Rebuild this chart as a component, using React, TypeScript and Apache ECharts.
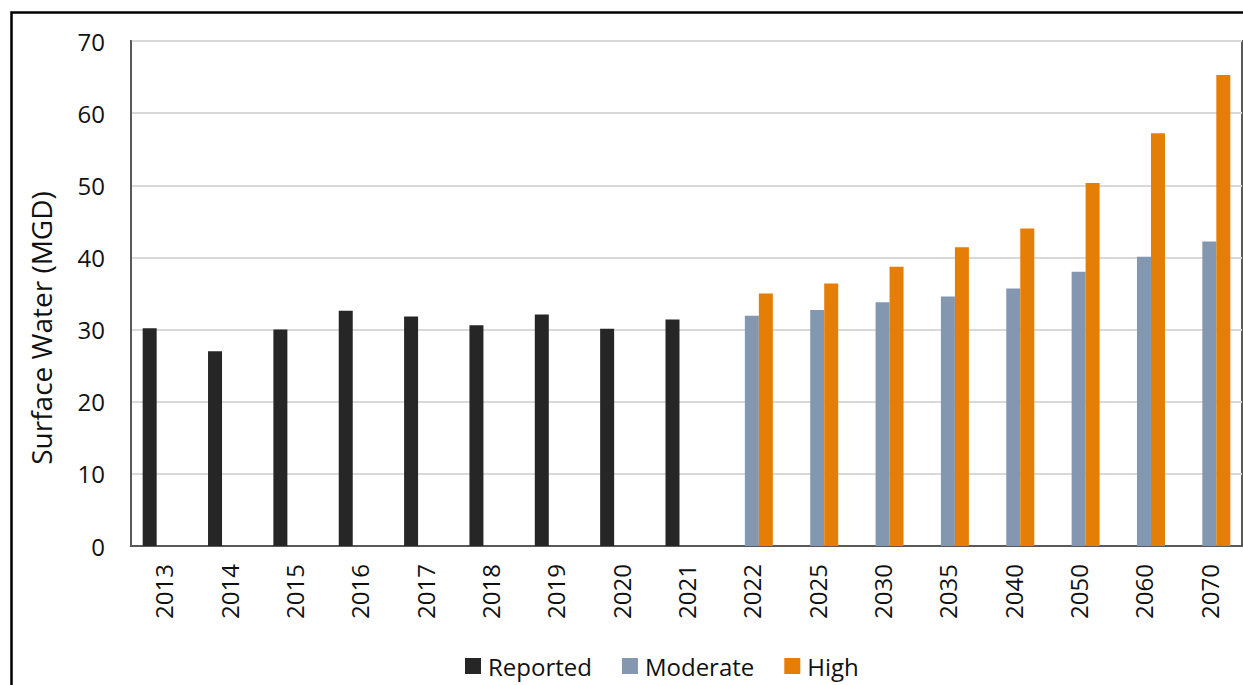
import React, { useEffect, useRef } from "react";
import * as echarts from "echarts";

// Surface water use: reported history and two projection scenarios (MGD)
const years = [
  "2013", "2014", "2015", "2016", "2017", "2018", "2019", "2020", "2021",
  "2022", "2025", "2030", "2035", "2040", "2050", "2060", "2070",
];
const reported = [30.2, 27.0, 30.0, 32.6, 31.8, 30.6, 32.1, 30.1, 31.4, null, null, null, null, null, null, null, null];
const moderate = [null, null, null, null, null, null, null, null, null, 31.9, 32.7, 33.8, 34.6, 35.7, 38.0, 40.1, 42.2];
const high = [null, null, null, null, null, null, null, null, null, 35.0, 36.4, 38.7, 41.4, 44.0, 50.3, 57.2, 65.3];
const yTicks = { min: 0, max: 70, interval: 10 };
const yTitle = "Surface Water (MGD)";

const FONT = "'Open Sans', Lato, sans-serif";

export default function App() {
  const ref = useRef<HTMLDivElement>(null);

  useEffect(() => {
    document.body.style.margin = "0";
    if (!ref.current) return;
    const chart = echarts.init(ref.current, null, { renderer: "svg" });
    chart.setOption({
      animation: false,
      backgroundColor: "#ffffff",
      textStyle: { fontFamily: FONT },
      grid: {
        left: 131,
        right: 1,
        top: 41,
        bottom: 139,
        show: true,
        borderColor: "#595959",
        borderWidth: 2,
      },
      legend: {
        bottom: 2,
        left: 460,
        itemWidth: 16,
        itemHeight: 16,
        itemGap: 30,
        icon: "rect",
        textStyle: { fontSize: 24, color: "#111", fontFamily: FONT, padding: [0, 0, 0, 2] },
        data: ["Reported", "Moderate", "High"],
      },
      xAxis: {
        type: "category",
        data: years,
        axisTick: { show: false },
        axisLine: { lineStyle: { color: "#595959", width: 2 } },
        axisLabel: {
          rotate: 90,
          fontSize: 24,
          color: "#111",
          margin: 18,
          fontFamily: FONT,
        },
      },
      yAxis: {
        type: "value",
        min: yTicks.min,
        max: yTicks.max,
        interval: yTicks.interval,
        axisLine: { show: true, lineStyle: { color: "#595959", width: 2 } },
        axisTick: { show: false },
        axisLabel: { fontSize: 24, color: "#111", margin: 26, fontFamily: FONT },
        splitLine: { lineStyle: { color: "#d9d9d9", width: 2 } },
      },
      series: [
        {
          name: "Reported",
          type: "bar",
          data: reported,
          barWidth: 14,
          barGap: "0%",
          itemStyle: { color: "#262626" },
        },
        {
          name: "Moderate",
          type: "bar",
          data: moderate,
          barWidth: 14,
          barGap: "0%",
          itemStyle: { color: "#8497b0" },
        },
        {
          name: "High",
          type: "bar",
          data: high,
          barWidth: 14,
          barGap: "0%",
          itemStyle: { color: "#e57e07" },
        },
      ],
      graphic: [
        {
          type: "rect",
          left: 9,
          top: 10,
          shape: { width: 1300, height: 700 },
          style: { fill: "none", stroke: "#000", lineWidth: 2.5 },
          silent: true,
        },
        {
          type: "text",
          x: 41,
          y: 328,
          rotation: Math.PI / 2,
          silent: true,
          style: {
            text: yTitle,
            fontSize: 28,
            fontFamily: FONT,
            fill: "#111",
            align: "center",
            verticalAlign: "middle",
          },
        },
      ],
    });
    return () => chart.dispose();
  }, []);

  return <div ref={ref} style={{ width: 1243, height: 685 }} />;
}
